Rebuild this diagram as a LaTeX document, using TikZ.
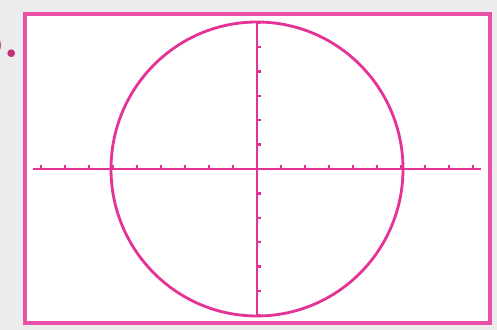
\documentclass[tikz,border=0pt]{standalone}
\usetikzlibrary{calc}
\definecolor{screenpink}{RGB}{228,50,150}
\definecolor{labelpink}{RGB}{196,48,120}
\definecolor{pagegray}{RGB}{236,236,236}
\begin{document}
\begin{tikzpicture}[
  x=0.02cm,y=-0.02cm,
  line cap=butt,
  frame/.style={draw=screenpink!85,line width=1.9pt,fill=white},
  axis/.style={screenpink,line width=1.5pt},
  tick/.style={screenpink,line width=1.3pt},
  graph/.style={screenpink,line width=1.6pt}
]

% ------------------------------------------------------------------
% Page and screen frame
% ------------------------------------------------------------------
\fill[pagegray] (0,0) rectangle (497,330);
\useasboundingbox (0,0) rectangle (497,330);
\clip (0,0) rectangle (497,330);

\node[anchor=base east,inner sep=0pt,text=labelpink,
  font=\bfseries\fontsize{30}{32}\selectfont] (lbl) at (20,58) {b.};

\draw[frame] (25,14) rectangle (490,323);

% ------------------------------------------------------------------
% Axes with tick marks
% ------------------------------------------------------------------
\coordinate (O) at (257,169);
\coordinate (xl) at (33,169);
\coordinate (xr) at (481,169);
\coordinate (yt) at (257,21);
\coordinate (yb) at (257,316);

\draw[axis] (xl) -- (xr);
\draw[axis] (yt) -- (yb);

\foreach \k in {-9,...,-1,1,2,...,9}
  \draw[tick] ($(O)+(24*\k,0)$) -- ++(0,-4);
\foreach \k in {-6,...,-1,1,2,...,6}
  \draw[tick] ($(O)+(0,24.4*\k)$) -- ++(4,0);

% ------------------------------------------------------------------
% Graph
% ------------------------------------------------------------------
\draw[graph] (O) ellipse [x radius=146,y radius=147];

\end{tikzpicture}
\end{document}
